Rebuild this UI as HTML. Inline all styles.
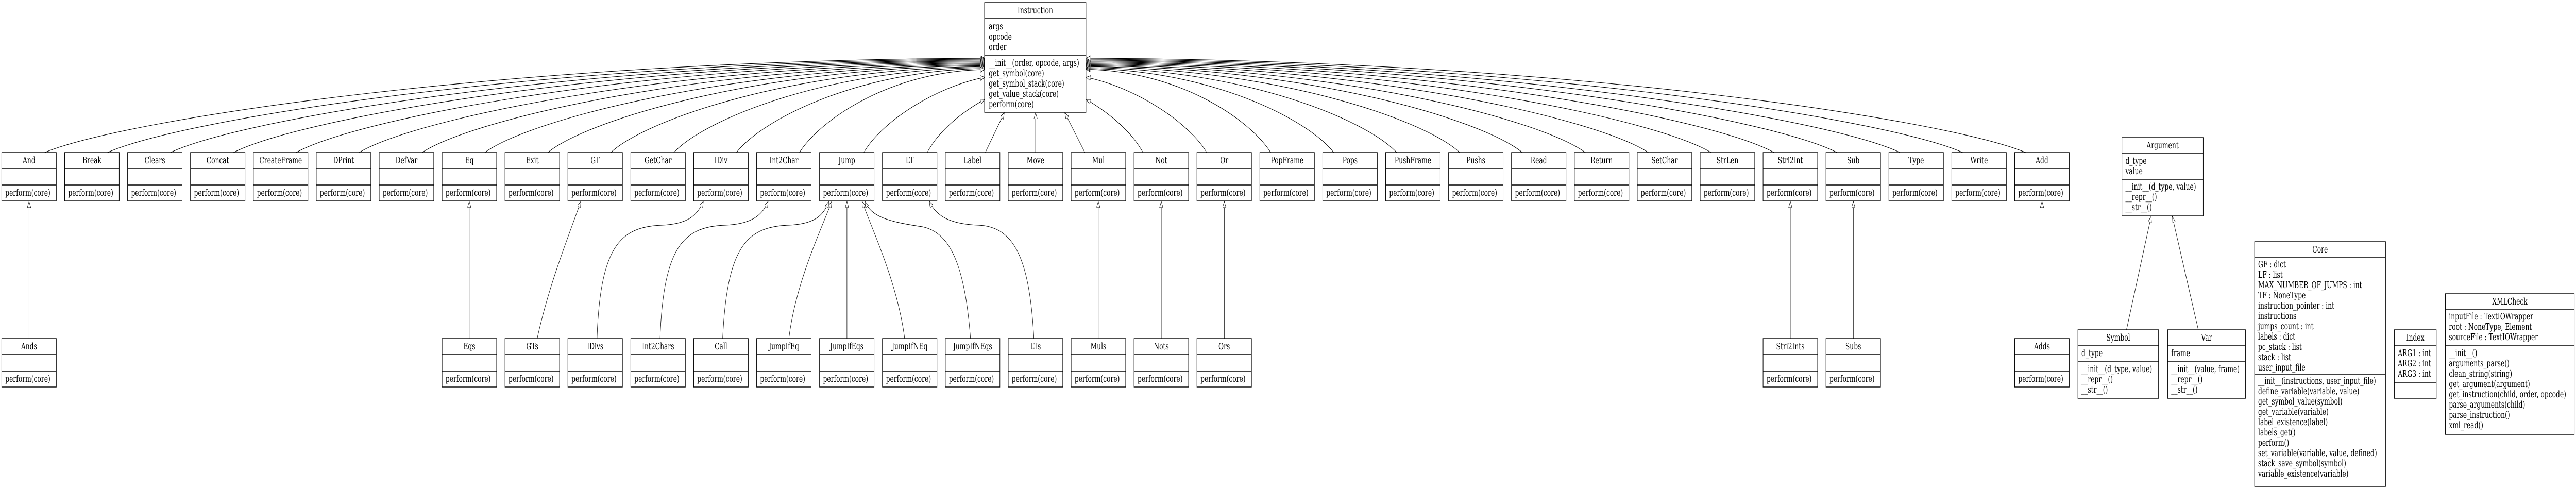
<!DOCTYPE html>
<html><head><meta charset="utf-8"><style>
html,body{margin:0;padding:0;background:#fff;overflow:hidden;width:100%;height:100%;}
svg{display:block;width:100vw;height:100vh;}
text{font-family:"DejaVu Serif","Liberation Serif",serif;font-size:18px;fill:#000;}
.c{text-anchor:middle;}
rect{fill:#fff;stroke:#000;stroke-width:1.4;}
line{stroke:#000;stroke-width:1.4;}
path{fill:none;stroke:#000;stroke-width:1.1;}
</style></head><body>
<svg viewBox="0 0 7318 947" preserveAspectRatio="none" xmlns="http://www.w3.org/2000/svg">
<defs>
<marker id="a" markerUnits="userSpaceOnUse" markerWidth="14" markerHeight="12" refX="12" refY="5" orient="auto">
<path d="M0,0 L12,5 L0,10 z" style="fill:#fff;stroke:#000;stroke-width:1"/>
</marker>
</defs>
<g marker-end="url(#a)">
<path d="M126.5,296 C360,230 1462,116 2797,113"/>
<path d="M305,296 C524,230 1551,118 2797,114.8"/>
<path d="M484,296 C689,230 1640,120 2797,116.6"/>
<path d="M663,296 C854,230 1730,121 2797,118.4"/>
<path d="M841,296 C1017,230 1819,123 2797,120.2"/>
<path d="M1020,296 C1182,230 1908,125 2797,122"/>
<path d="M1199,296 C1347,230 1998,127 2797,123.8"/>
<path d="M1377,296 C1511,230 2087,129 2797,125.6"/>
<path d="M1556,296 C1675,230 2176,130 2797,127.4"/>
<path d="M1735,296 C1840,230 2266,132 2797,129.2"/>
<path d="M1914,296 C2005,230 2355,134 2797,131"/>
<path d="M2092,296 C2168,230 2445,136 2797,133"/>
<path d="M2271,296 C2333,230 2534,138 2797,135"/>
<path d="M2454,296 C2500,240 2650,170 2797,150"/>
<path d="M2634,296 C2670,250 2740,215 2797,193"/>
<path d="M2799,296 L2853,219"/>
<path d="M2942,296 L2942,219"/>
<path d="M3082,296 L3025,219"/>
<path d="M3247,296 C3210,250 3140,215 3086,193"/>
<path d="M3428,296 C3380,240 3230,170 3086,150"/>
<path d="M3610,296 C3548,230 3348,138 3086,134.6"/>
<path d="M3789,296 C3713,230 3438,136 3086,132.8"/>
<path d="M3968,296 C3877,230 3527,134 3086,131"/>
<path d="M4147,296 C4042,230 3617,132 3086,129.2"/>
<path d="M4325,296 C4206,230 3706,130 3086,127.4"/>
<path d="M4504,296 C4371,230 3795,129 3086,125.6"/>
<path d="M4683,296 C4535,230 3885,127 3086,123.8"/>
<path d="M4861,296 C4699,230 3974,125 3086,122"/>
<path d="M5040,296 C4864,230 4063,123 3086,120.2"/>
<path d="M5219,296 C5028,230 4153,121 3086,118.4"/>
<path d="M5398,296 C5193,230 4242,120 3086,116.6"/>
<path d="M5576,296 C5357,230 4331,118 3086,114.8"/>
<path d="M5755,296 C5522,230 4420,116 3086,113"/>

<path d="M82.5,657 L82.5,391"/>
<path d="M1333,657 L1333,391"/>
<path d="M1526,657 C1560,550 1620,450 1650,391"/>
<path d="M1696,657 C1705,480 1760,440 1880,437 C1950,435 1980,420 1998,391"/>
<path d="M1875,657 C1885,480 1940,440 2060,437 C2130,435 2165,420 2182,391"/>
<path d="M2053,657 C2065,480 2120,440 2240,437 C2310,435 2340,420 2354,391"/>
<path d="M2241,657 C2260,550 2330,450 2363,391"/>
<path d="M2406,657 L2406,391"/>
<path d="M2570,657 C2550,550 2480,450 2449,391"/>
<path d="M2757,657 C2740,500 2690,450 2620,440 C2520,430 2475,420 2457,391"/>
<path d="M2937,657 C2925,500 2880,440 2780,437 C2700,435 2660,420 2640,391"/>
<path d="M3120,657 L3120,391"/>
<path d="M3299,657 L3299,391"/>
<path d="M3478,657 L3478,391"/>
<path d="M5086,657 L5086,391"/>
<path d="M5265,657 L5265,391"/>
<path d="M5801,657 L5801,391"/>
<path d="M6041,640 L6111,420"/>
<path d="M6245,640 L6171,420"/>
</g>

<g transform="translate(2797,5)">
<rect width="288" height="213"/><line x1="0" y1="31" x2="288" y2="31"/><line x1="0" y1="102" x2="288" y2="102"/>
<text class="c" x="144" y="21">Instruction</text>
<text x="12" y="52">args</text><text x="12" y="72">opcode</text><text x="12" y="92">order</text>
<text x="12" y="123">__init__(order, opcode, args)</text><text x="12" y="143">get_symbol(core)</text><text x="12" y="163">get_symbol_stack(core)</text><text x="12" y="183">get_value_stack(core)</text><text x="12" y="203">perform(core)</text>
</g>

<g transform="translate(5,296)"><rect width="155" height="94"/><line x1="0" y1="31" x2="155" y2="31"/><line x1="0" y1="63" x2="155" y2="63"/><text class="c" x="77.5" y="21">And</text><text x="10" y="84">perform(core)</text></g>
<g transform="translate(183.7,296)"><rect width="155" height="94"/><line x1="0" y1="31" x2="155" y2="31"/><line x1="0" y1="63" x2="155" y2="63"/><text class="c" x="77.5" y="21">Break</text><text x="10" y="84">perform(core)</text></g>
<g transform="translate(362.4,296)"><rect width="155" height="94"/><line x1="0" y1="31" x2="155" y2="31"/><line x1="0" y1="63" x2="155" y2="63"/><text class="c" x="77.5" y="21">Clears</text><text x="10" y="84">perform(core)</text></g>
<g transform="translate(541.1,296)"><rect width="155" height="94"/><line x1="0" y1="31" x2="155" y2="31"/><line x1="0" y1="63" x2="155" y2="63"/><text class="c" x="77.5" y="21">Concat</text><text x="10" y="84">perform(core)</text></g>
<g transform="translate(719.8,296)"><rect width="155" height="94"/><line x1="0" y1="31" x2="155" y2="31"/><line x1="0" y1="63" x2="155" y2="63"/><text class="c" x="77.5" y="21">CreateFrame</text><text x="10" y="84">perform(core)</text></g>
<g transform="translate(898.5,296)"><rect width="155" height="94"/><line x1="0" y1="31" x2="155" y2="31"/><line x1="0" y1="63" x2="155" y2="63"/><text class="c" x="77.5" y="21">DPrint</text><text x="10" y="84">perform(core)</text></g>
<g transform="translate(1077.2,296)"><rect width="155" height="94"/><line x1="0" y1="31" x2="155" y2="31"/><line x1="0" y1="63" x2="155" y2="63"/><text class="c" x="77.5" y="21">DefVar</text><text x="10" y="84">perform(core)</text></g>
<g transform="translate(1255.9,296)"><rect width="155" height="94"/><line x1="0" y1="31" x2="155" y2="31"/><line x1="0" y1="63" x2="155" y2="63"/><text class="c" x="77.5" y="21">Eq</text><text x="10" y="84">perform(core)</text></g>
<g transform="translate(1434.6,296)"><rect width="155" height="94"/><line x1="0" y1="31" x2="155" y2="31"/><line x1="0" y1="63" x2="155" y2="63"/><text class="c" x="77.5" y="21">Exit</text><text x="10" y="84">perform(core)</text></g>
<g transform="translate(1613.3,296)"><rect width="155" height="94"/><line x1="0" y1="31" x2="155" y2="31"/><line x1="0" y1="63" x2="155" y2="63"/><text class="c" x="77.5" y="21">GT</text><text x="10" y="84">perform(core)</text></g>
<g transform="translate(1792,296)"><rect width="155" height="94"/><line x1="0" y1="31" x2="155" y2="31"/><line x1="0" y1="63" x2="155" y2="63"/><text class="c" x="77.5" y="21">GetChar</text><text x="10" y="84">perform(core)</text></g>
<g transform="translate(1970.7,296)"><rect width="155" height="94"/><line x1="0" y1="31" x2="155" y2="31"/><line x1="0" y1="63" x2="155" y2="63"/><text class="c" x="77.5" y="21">IDiv</text><text x="10" y="84">perform(core)</text></g>
<g transform="translate(2149.4,296)"><rect width="155" height="94"/><line x1="0" y1="31" x2="155" y2="31"/><line x1="0" y1="63" x2="155" y2="63"/><text class="c" x="77.5" y="21">Int2Char</text><text x="10" y="84">perform(core)</text></g>
<g transform="translate(2328.1,296)"><rect width="155" height="94"/><line x1="0" y1="31" x2="155" y2="31"/><line x1="0" y1="63" x2="155" y2="63"/><text class="c" x="77.5" y="21">Jump</text><text x="10" y="84">perform(core)</text></g>
<g transform="translate(2506.8,296)"><rect width="155" height="94"/><line x1="0" y1="31" x2="155" y2="31"/><line x1="0" y1="63" x2="155" y2="63"/><text class="c" x="77.5" y="21">LT</text><text x="10" y="84">perform(core)</text></g>
<g transform="translate(2685.5,296)"><rect width="155" height="94"/><line x1="0" y1="31" x2="155" y2="31"/><line x1="0" y1="63" x2="155" y2="63"/><text class="c" x="77.5" y="21">Label</text><text x="10" y="84">perform(core)</text></g>
<g transform="translate(2864.2,296)"><rect width="155" height="94"/><line x1="0" y1="31" x2="155" y2="31"/><line x1="0" y1="63" x2="155" y2="63"/><text class="c" x="77.5" y="21">Move</text><text x="10" y="84">perform(core)</text></g>
<g transform="translate(3042.9,296)"><rect width="155" height="94"/><line x1="0" y1="31" x2="155" y2="31"/><line x1="0" y1="63" x2="155" y2="63"/><text class="c" x="77.5" y="21">Mul</text><text x="10" y="84">perform(core)</text></g>
<g transform="translate(3221.6,296)"><rect width="155" height="94"/><line x1="0" y1="31" x2="155" y2="31"/><line x1="0" y1="63" x2="155" y2="63"/><text class="c" x="77.5" y="21">Not</text><text x="10" y="84">perform(core)</text></g>
<g transform="translate(3400.3,296)"><rect width="155" height="94"/><line x1="0" y1="31" x2="155" y2="31"/><line x1="0" y1="63" x2="155" y2="63"/><text class="c" x="77.5" y="21">Or</text><text x="10" y="84">perform(core)</text></g>
<g transform="translate(3579,296)"><rect width="155" height="94"/><line x1="0" y1="31" x2="155" y2="31"/><line x1="0" y1="63" x2="155" y2="63"/><text class="c" x="77.5" y="21">PopFrame</text><text x="10" y="84">perform(core)</text></g>
<g transform="translate(3757.7,296)"><rect width="155" height="94"/><line x1="0" y1="31" x2="155" y2="31"/><line x1="0" y1="63" x2="155" y2="63"/><text class="c" x="77.5" y="21">Pops</text><text x="10" y="84">perform(core)</text></g>
<g transform="translate(3936.4,296)"><rect width="155" height="94"/><line x1="0" y1="31" x2="155" y2="31"/><line x1="0" y1="63" x2="155" y2="63"/><text class="c" x="77.5" y="21">PushFrame</text><text x="10" y="84">perform(core)</text></g>
<g transform="translate(4115.1,296)"><rect width="155" height="94"/><line x1="0" y1="31" x2="155" y2="31"/><line x1="0" y1="63" x2="155" y2="63"/><text class="c" x="77.5" y="21">Pushs</text><text x="10" y="84">perform(core)</text></g>
<g transform="translate(4293.8,296)"><rect width="155" height="94"/><line x1="0" y1="31" x2="155" y2="31"/><line x1="0" y1="63" x2="155" y2="63"/><text class="c" x="77.5" y="21">Read</text><text x="10" y="84">perform(core)</text></g>
<g transform="translate(4472.5,296)"><rect width="155" height="94"/><line x1="0" y1="31" x2="155" y2="31"/><line x1="0" y1="63" x2="155" y2="63"/><text class="c" x="77.5" y="21">Return</text><text x="10" y="84">perform(core)</text></g>
<g transform="translate(4651.2,296)"><rect width="155" height="94"/><line x1="0" y1="31" x2="155" y2="31"/><line x1="0" y1="63" x2="155" y2="63"/><text class="c" x="77.5" y="21">SetChar</text><text x="10" y="84">perform(core)</text></g>
<g transform="translate(4829.9,296)"><rect width="155" height="94"/><line x1="0" y1="31" x2="155" y2="31"/><line x1="0" y1="63" x2="155" y2="63"/><text class="c" x="77.5" y="21">StrLen</text><text x="10" y="84">perform(core)</text></g>
<g transform="translate(5008.6,296)"><rect width="155" height="94"/><line x1="0" y1="31" x2="155" y2="31"/><line x1="0" y1="63" x2="155" y2="63"/><text class="c" x="77.5" y="21">Stri2Int</text><text x="10" y="84">perform(core)</text></g>
<g transform="translate(5187.3,296)"><rect width="155" height="94"/><line x1="0" y1="31" x2="155" y2="31"/><line x1="0" y1="63" x2="155" y2="63"/><text class="c" x="77.5" y="21">Sub</text><text x="10" y="84">perform(core)</text></g>
<g transform="translate(5366,296)"><rect width="155" height="94"/><line x1="0" y1="31" x2="155" y2="31"/><line x1="0" y1="63" x2="155" y2="63"/><text class="c" x="77.5" y="21">Type</text><text x="10" y="84">perform(core)</text></g>
<g transform="translate(5544.7,296)"><rect width="155" height="94"/><line x1="0" y1="31" x2="155" y2="31"/><line x1="0" y1="63" x2="155" y2="63"/><text class="c" x="77.5" y="21">Write</text><text x="10" y="84">perform(core)</text></g>
<g transform="translate(5723.4,296)"><rect width="155" height="94"/><line x1="0" y1="31" x2="155" y2="31"/><line x1="0" y1="63" x2="155" y2="63"/><text class="c" x="77.5" y="21">Add</text><text x="10" y="84">perform(core)</text></g>

<g transform="translate(5,657)"><rect width="155" height="94"/><line x1="0" y1="31" x2="155" y2="31"/><line x1="0" y1="63" x2="155" y2="63"/><text class="c" x="77.5" y="21">Ands</text><text x="10" y="84">perform(core)</text></g>
<g transform="translate(1255.9,657)"><rect width="155" height="94"/><line x1="0" y1="31" x2="155" y2="31"/><line x1="0" y1="63" x2="155" y2="63"/><text class="c" x="77.5" y="21">Eqs</text><text x="10" y="84">perform(core)</text></g>
<g transform="translate(1434.6,657)"><rect width="155" height="94"/><line x1="0" y1="31" x2="155" y2="31"/><line x1="0" y1="63" x2="155" y2="63"/><text class="c" x="77.5" y="21">GTs</text><text x="10" y="84">perform(core)</text></g>
<g transform="translate(1613.3,657)"><rect width="155" height="94"/><line x1="0" y1="31" x2="155" y2="31"/><line x1="0" y1="63" x2="155" y2="63"/><text class="c" x="77.5" y="21">IDivs</text><text x="10" y="84">perform(core)</text></g>
<g transform="translate(1792,657)"><rect width="155" height="94"/><line x1="0" y1="31" x2="155" y2="31"/><line x1="0" y1="63" x2="155" y2="63"/><text class="c" x="77.5" y="21">Int2Chars</text><text x="10" y="84">perform(core)</text></g>
<g transform="translate(1970.7,657)"><rect width="155" height="94"/><line x1="0" y1="31" x2="155" y2="31"/><line x1="0" y1="63" x2="155" y2="63"/><text class="c" x="77.5" y="21">Call</text><text x="10" y="84">perform(core)</text></g>
<g transform="translate(2149.4,657)"><rect width="155" height="94"/><line x1="0" y1="31" x2="155" y2="31"/><line x1="0" y1="63" x2="155" y2="63"/><text class="c" x="77.5" y="21">JumpIfEq</text><text x="10" y="84">perform(core)</text></g>
<g transform="translate(2328.1,657)"><rect width="155" height="94"/><line x1="0" y1="31" x2="155" y2="31"/><line x1="0" y1="63" x2="155" y2="63"/><text class="c" x="77.5" y="21">JumpIfEqs</text><text x="10" y="84">perform(core)</text></g>
<g transform="translate(2506.8,657)"><rect width="155" height="94"/><line x1="0" y1="31" x2="155" y2="31"/><line x1="0" y1="63" x2="155" y2="63"/><text class="c" x="77.5" y="21">JumpIfNEq</text><text x="10" y="84">perform(core)</text></g>
<g transform="translate(2685.5,657)"><rect width="155" height="94"/><line x1="0" y1="31" x2="155" y2="31"/><line x1="0" y1="63" x2="155" y2="63"/><text class="c" x="77.5" y="21">JumpIfNEqs</text><text x="10" y="84">perform(core)</text></g>
<g transform="translate(2864.2,657)"><rect width="155" height="94"/><line x1="0" y1="31" x2="155" y2="31"/><line x1="0" y1="63" x2="155" y2="63"/><text class="c" x="77.5" y="21">LTs</text><text x="10" y="84">perform(core)</text></g>
<g transform="translate(3042.9,657)"><rect width="155" height="94"/><line x1="0" y1="31" x2="155" y2="31"/><line x1="0" y1="63" x2="155" y2="63"/><text class="c" x="77.5" y="21">Muls</text><text x="10" y="84">perform(core)</text></g>
<g transform="translate(3221.6,657)"><rect width="155" height="94"/><line x1="0" y1="31" x2="155" y2="31"/><line x1="0" y1="63" x2="155" y2="63"/><text class="c" x="77.5" y="21">Nots</text><text x="10" y="84">perform(core)</text></g>
<g transform="translate(3400.3,657)"><rect width="155" height="94"/><line x1="0" y1="31" x2="155" y2="31"/><line x1="0" y1="63" x2="155" y2="63"/><text class="c" x="77.5" y="21">Ors</text><text x="10" y="84">perform(core)</text></g>
<g transform="translate(5008.6,657)"><rect width="155" height="94"/><line x1="0" y1="31" x2="155" y2="31"/><line x1="0" y1="63" x2="155" y2="63"/><text class="c" x="77.5" y="21">Stri2Ints</text><text x="10" y="84">perform(core)</text></g>
<g transform="translate(5187.3,657)"><rect width="155" height="94"/><line x1="0" y1="31" x2="155" y2="31"/><line x1="0" y1="63" x2="155" y2="63"/><text class="c" x="77.5" y="21">Subs</text><text x="10" y="84">perform(core)</text></g>
<g transform="translate(5723.4,657)"><rect width="155" height="94"/><line x1="0" y1="31" x2="155" y2="31"/><line x1="0" y1="63" x2="155" y2="63"/><text class="c" x="77.5" y="21">Adds</text><text x="10" y="84">perform(core)</text></g>

<g transform="translate(6028,267)">
<rect width="231" height="152"/><line x1="0" y1="31" x2="231" y2="31"/><line x1="0" y1="81" x2="231" y2="81"/>
<text class="c" x="115.5" y="21">Argument</text>
<text x="10" y="51">d_type</text><text x="10" y="71">value</text>
<text x="10" y="101">__init__(d_type, value)</text><text x="10" y="121">__repr__()</text><text x="10" y="141">__str__()</text>
</g>
<g transform="translate(5903,640)">
<rect width="229" height="133"/><line x1="0" y1="31" x2="229" y2="31"/><line x1="0" y1="62" x2="229" y2="62"/>
<text class="c" x="114.5" y="21">Symbol</text>
<text x="10" y="51">d_type</text>
<text x="10" y="82">__init__(d_type, value)</text><text x="10" y="102">__repr__()</text><text x="10" y="122">__str__()</text>
</g>
<g transform="translate(6158,640)">
<rect width="221" height="133"/><line x1="0" y1="31" x2="221" y2="31"/><line x1="0" y1="62" x2="221" y2="62"/>
<text class="c" x="110.5" y="21">Var</text>
<text x="10" y="51">frame</text>
<text x="10" y="82">__init__(value, frame)</text><text x="10" y="102">__repr__()</text><text x="10" y="122">__str__()</text>
</g>
<g transform="translate(6405,469)">
<rect width="372" height="475"/><line x1="0" y1="30" x2="372" y2="30"/><line x1="0" y1="257" x2="372" y2="257"/>
<text class="c" x="186" y="21">Core</text>
<text x="10" y="50">GF : dict</text><text x="10" y="70">LF : list</text><text x="10" y="90">MAX_NUMBER_OF_JUMPS : int</text><text x="10" y="110">TF : NoneType</text><text x="10" y="130">instruction_pointer : int</text><text x="10" y="150">instructions</text><text x="10" y="170">jumps_count : int</text><text x="10" y="190">labels : dict</text><text x="10" y="210">pc_stack : list</text><text x="10" y="230">stack : list</text><text x="10" y="250">user_input_file</text>
<text x="10" y="276">__init__(instructions, user_input_file)</text><text x="10" y="296">define_variable(variable, value)</text><text x="10" y="316">get_symbol_value(symbol)</text><text x="10" y="336">get_variable(variable)</text><text x="10" y="356">label_existence(label)</text><text x="10" y="376">labels_get()</text><text x="10" y="396">perform()</text><text x="10" y="416">set_variable(variable, value, defined)</text><text x="10" y="436">stack_save_symbol(symbol)</text><text x="10" y="456">variable_existence(variable)</text>
</g>
<g transform="translate(6802,640)">
<rect width="119" height="133"/><line x1="0" y1="31" x2="119" y2="31"/><line x1="0" y1="102" x2="119" y2="102"/>
<text class="c" x="59.5" y="21">Index</text>
<text x="10" y="51">ARG1 : int</text><text x="10" y="71">ARG2 : int</text><text x="10" y="91">ARG3 : int</text>
</g>
<g transform="translate(6947,570)">
<rect width="366" height="273"/><line x1="0" y1="30" x2="366" y2="30"/><line x1="0" y1="101" x2="366" y2="101"/>
<text class="c" x="183" y="21">XMLCheck</text>
<text x="10" y="50">inputFile : TextIOWrapper</text><text x="10" y="70">root : NoneType, Element</text><text x="10" y="90">sourceFile : TextIOWrapper</text>
<text x="10" y="121">__init__()</text><text x="10" y="141">arguments_parse()</text><text x="10" y="161">clean_string(string)</text><text x="10" y="181">get_argument(argument)</text><text x="10" y="201">get_instruction(child, order, opcode)</text><text x="10" y="221">parse_arguments(child)</text><text x="10" y="241">parse_instruction()</text><text x="10" y="261">xml_read()</text>
</g>
</svg>
</body></html>
